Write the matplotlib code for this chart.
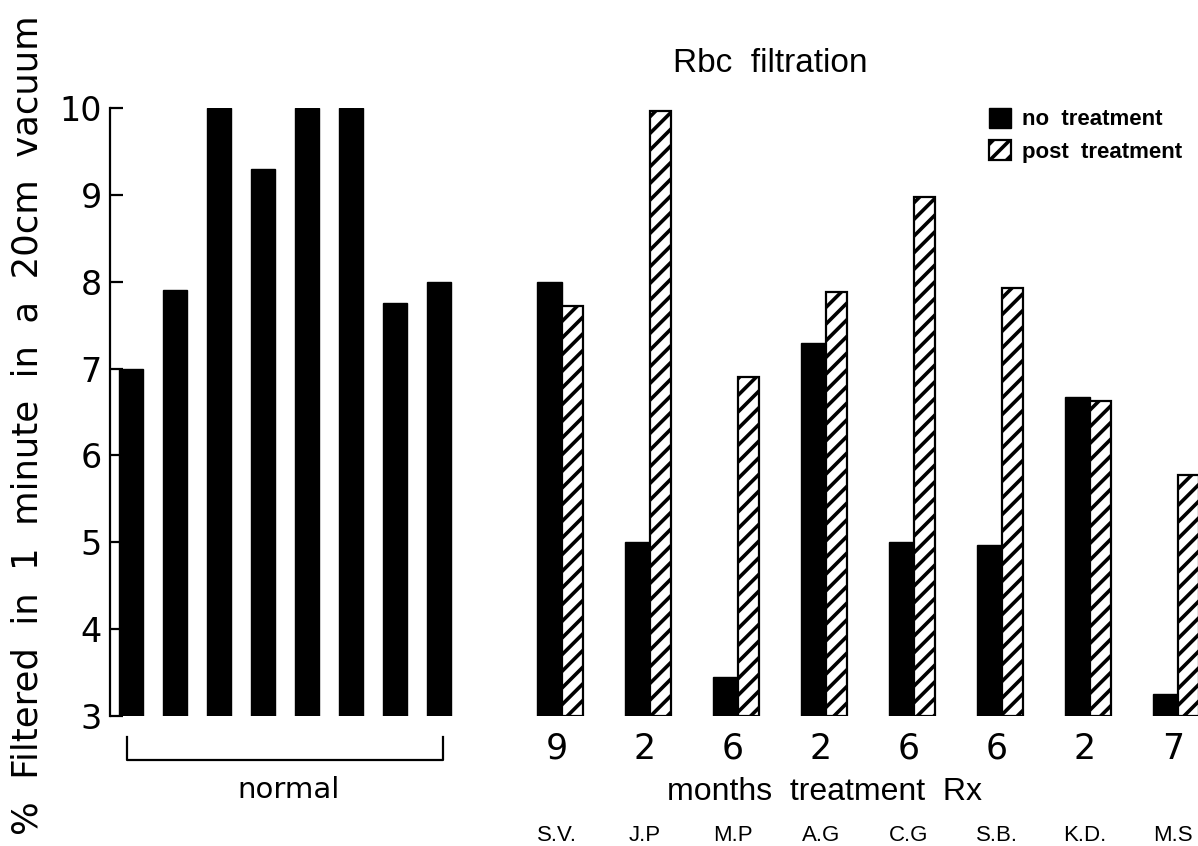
import matplotlib
matplotlib.use("Agg")
import matplotlib.pyplot as plt
from matplotlib.patches import Patch
import matplotlib.transforms as mtransforms

# ---- data ----
normal_values = [7.0, 7.9, 10.0, 9.3, 10.0, 10.0, 7.75, 8.0]
patients = ["S.V.", "J.P", "M.P", "A.G", "C.G", "S.B.", "K.D.", "M.S"]
months = ["9", "2", "6", "2", "6", "6", "2", "7"]
no_treatment = [8.0, 5.0, 3.45, 7.3, 5.0, 4.97, 6.67, 3.25]
post_treatment = [7.72, 9.97, 6.9, 7.88, 8.97, 7.93, 6.63, 5.78]
y_ticks = [3, 4, 5, 6, 7, 8, 9, 10]

plt.rcParams['hatch.linewidth'] = 2.6
narrow = ['Liberation Sans', 'DejaVu Sans']

fig = plt.figure(figsize=(11.98, 8.46), dpi=100)
ax = fig.add_axes([110/1198, 130/846, 1088/1198, 608/846])

base = 3.0
# normal group
nx = list(range(len(normal_values)))
ax.bar(nx, [v - base for v in normal_values], bottom=base, width=0.56,
       color='black', edgecolor='black')

# treated group
pair_start, pair_step = 9.8, 2.0
bx = [pair_start + pair_step * i for i in range(len(patients))]
ax.bar(bx, [v - base for v in no_treatment], bottom=base, width=-0.58,
       align='edge', color='black', edgecolor='black')
ax.bar(bx, [v - base for v in post_treatment], bottom=base,
       width=0.48, align='edge', color='white', edgecolor='black',
       linewidth=1.6, hatch='//')

ax.set_xlim(-0.48, 24.25)
ax.set_ylim(3, 10)
for s in ['top', 'right', 'bottom']:
    ax.spines[s].set_visible(False)
ax.spines['left'].set_linewidth(1.6)
ax.set_yticks(y_ticks)
ax.set_yticklabels([str(t) for t in y_ticks])
ax.tick_params(axis='y', direction='in', length=9, width=1.6, pad=6,
               labelsize=24)
ax.set_xticks([])

tr = mtransforms.blended_transform_factory(ax.transData, ax.transAxes)
# months labels
for x, m, p in zip(bx, months, patients):
    ax.text(x - 0.12, -0.054, m, transform=tr, ha='center', va='center',
            fontsize=25)
    ax.text(x - 0.12, -0.197, p, transform=tr, ha='center', va='center',
            fontsize=16, family=narrow)
ax.text(15.77, -0.125, "months  treatment  Rx", transform=tr, ha='center',
        va='center', fontsize=23, family=narrow)

# bracket for normal
ax.plot([-0.09, -0.09, 7.09, 7.09], [-0.034, -0.072, -0.072, -0.034],
        transform=tr, color='black', lw=1.6, clip_on=False)
ax.text(3.57, -0.122, "normal", transform=tr, ha='center', va='center',
        fontsize=21)

fig.text(770/1198, 1 - 63/846, "Rbc  filtration", ha='center', va='center',
         fontsize=24, family=narrow)
fig.text(28/1198, 1 - 425/846, "%  Filtered  in  1  minute  in  a  20cm  vacuum",
         rotation=90, ha='center', va='center', fontsize=25.5)

handles = [Patch(facecolor='black', edgecolor='black'),
           Patch(facecolor='white', edgecolor='black', hatch='//', linewidth=1.6)]
fig.legend(handles, ["no  treatment", "post  treatment"], loc='upper left',
           bbox_to_anchor=(982/1198, 1 - 101/846), frameon=False,
           handlelength=1.0, handleheight=1.0, handletextpad=0.5,
           labelspacing=0.45, borderaxespad=0.0, borderpad=0.3,
           prop={'family': narrow, 'size': 16, 'weight': 'bold'})

fig.savefig("out.png", dpi=100)
